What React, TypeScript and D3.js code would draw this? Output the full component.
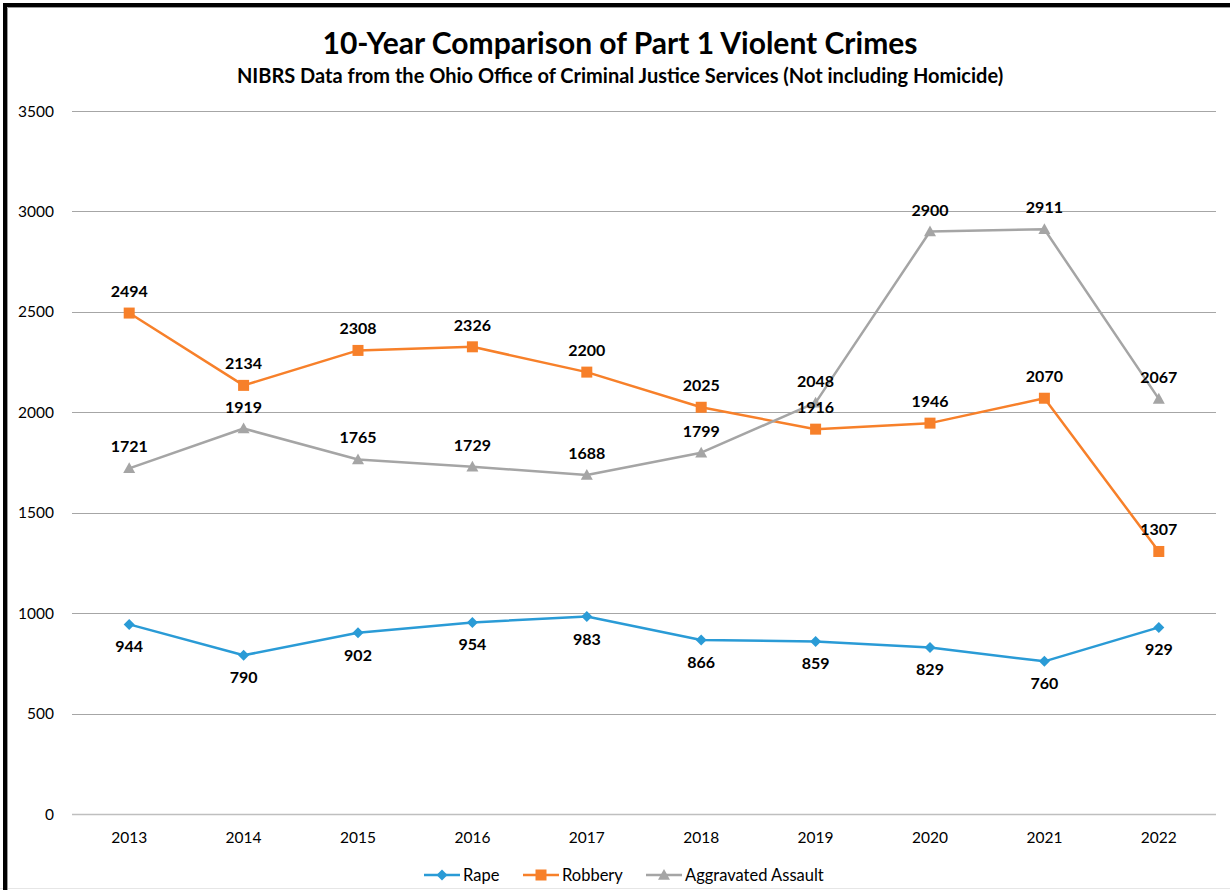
import React from "react";
import * as d3 from "d3";

const years = ["2013", "2014", "2015", "2016", "2017", "2018", "2019", "2020", "2021", "2022"];
const rape = [944, 790, 902, 954, 983, 866, 859, 829, 760, 929];
const robbery = [2494, 2134, 2308, 2326, 2200, 2025, 1916, 1946, 2070, 1307];
const assault = [1721, 1919, 1765, 1729, 1688, 1799, 2048, 2900, 2911, 2067];
const yTicks = [0, 500, 1000, 1500, 2000, 2500, 3000, 3500];

const W = 1230;
const H = 890;
const FONT = "Lato, 'Open Sans', sans-serif";

const series = [
  { name: "Rape", values: rape, color: "#2A9BD6", marker: "diamond", labelDy: 28 },
  { name: "Robbery", values: robbery, color: "#F7802A", marker: "square", labelDy: -16 },
  { name: "Aggravated Assault", values: assault, color: "#A5A5A5", marker: "triangle", labelDy: -16 },
];

function Marker({ type, x, y, color }: { type: string; x: number; y: number; color: string }) {
  if (type === "diamond") {
    const s = 5.5;
    return <path d={`M${x},${y - s}L${x + s},${y}L${x},${y + s}L${x - s},${y}Z`} fill={color} />;
  }
  if (type === "square") {
    const s = 5.5;
    return <rect x={x - s} y={y - s} width={2 * s} height={2 * s} fill={color} />;
  }
  const s = 6;
  return <path d={`M${x},${y - s}L${x + s},${y + s * 0.8}L${x - s},${y + s * 0.8}Z`} fill={color} />;
}

export default function App() {
  const x = d3.scaleBand<string>().domain(years).range([72, 1216]);
  const y = d3.scaleLinear().domain([0, 3500]).range([814, 111]);
  const cx = (yr: string) => (x(yr) as number) + x.bandwidth() / 2;
  const line = d3
    .line<number>()
    .x((_, i) => cx(years[i]))
    .y((v) => y(v));

  const legendItems = [
    { s: series[0], x0: 424 },
    { s: series[1], x0: 523 },
    { s: series[2], x0: 646 },
  ];

  return (
    <div style={{ position: "fixed", left: 0, top: 0 }}>
      <svg width={W} height={H} style={{ display: "block", background: "#fff" }} fontFamily={FONT}>
        <rect x={0} y={0} width={W} height={H} fill="#fff" />
        <line x1={0} y1={888.5} x2={W} y2={888.5} stroke="#e6e6e6" strokeWidth={1} />
        <rect x={5} y={5} width={W + 20} height={H + 20} fill="none" stroke="#000" strokeWidth={4} />
        <line x1={7.5} y1={7.5} x2={W} y2={7.5} stroke="#9a9a9a" strokeWidth={1} />
        <line x1={7.5} y1={7.5} x2={7.5} y2={H} stroke="#9a9a9a" strokeWidth={1} />

        <text x={620} y={54} textAnchor="middle" fontSize={30} fontWeight="bold" fill="#000">
          10-Year Comparison of Part 1 Violent Crimes
        </text>
        <text x={620} y={83} textAnchor="middle" fontSize={20} fontWeight="bold" fill="#000">
          NIBRS Data from the Ohio Office of Criminal Justice Services (Not including Homicide)
        </text>

        {yTicks.map((t) => (
          <g key={t}>
            <line
              x1={72}
              x2={1216}
              y1={Math.round(y(t)) + 0.5}
              y2={Math.round(y(t)) + 0.5}
              stroke={t === 0 ? "#bfbfbf" : "#a6a6a6"}
              strokeWidth={t === 0 ? 1.5 : 1}
            />
            <text x={54} y={y(t) + 5.5} textAnchor="end" fontSize={15.5} fill="#000">
              {t}
            </text>
          </g>
        ))}

        {years.map((yr) => (
          <text key={yr} x={cx(yr)} y={843} textAnchor="middle" fontSize={15.5} fill="#000">
            {yr}
          </text>
        ))}

        {series.map((s) => (
          <g key={s.name}>
            <path d={line(s.values) as string} fill="none" stroke={s.color} strokeWidth={2.5} strokeLinejoin="round" />
            {s.values.map((v, i) => (
              <Marker key={i} type={s.marker} x={cx(years[i])} y={y(v)} color={s.color} />
            ))}
          </g>
        ))}

        {series.map((s) =>
          s.values.map((v, i) => (
            <text
              key={s.name + i}
              x={cx(years[i])}
              y={y(v) + s.labelDy}
              textAnchor="middle"
              fontSize={16}
              fontWeight="bold"
              fill="#000"
            >
              {v}
            </text>
          ))
        )}

        {legendItems.map(({ s, x0 }) => (
          <g key={s.name}>
            <line x1={x0} x2={x0 + 36} y1={875} y2={875} stroke={s.color} strokeWidth={2.5} />
            <Marker type={s.marker} x={x0 + 18} y={875} color={s.color} />
            <text x={x0 + 39} y={881} fontSize={16.5} fill="#000">
              {s.name}
            </text>
          </g>
        ))}
      </svg>
    </div>
  );
}
